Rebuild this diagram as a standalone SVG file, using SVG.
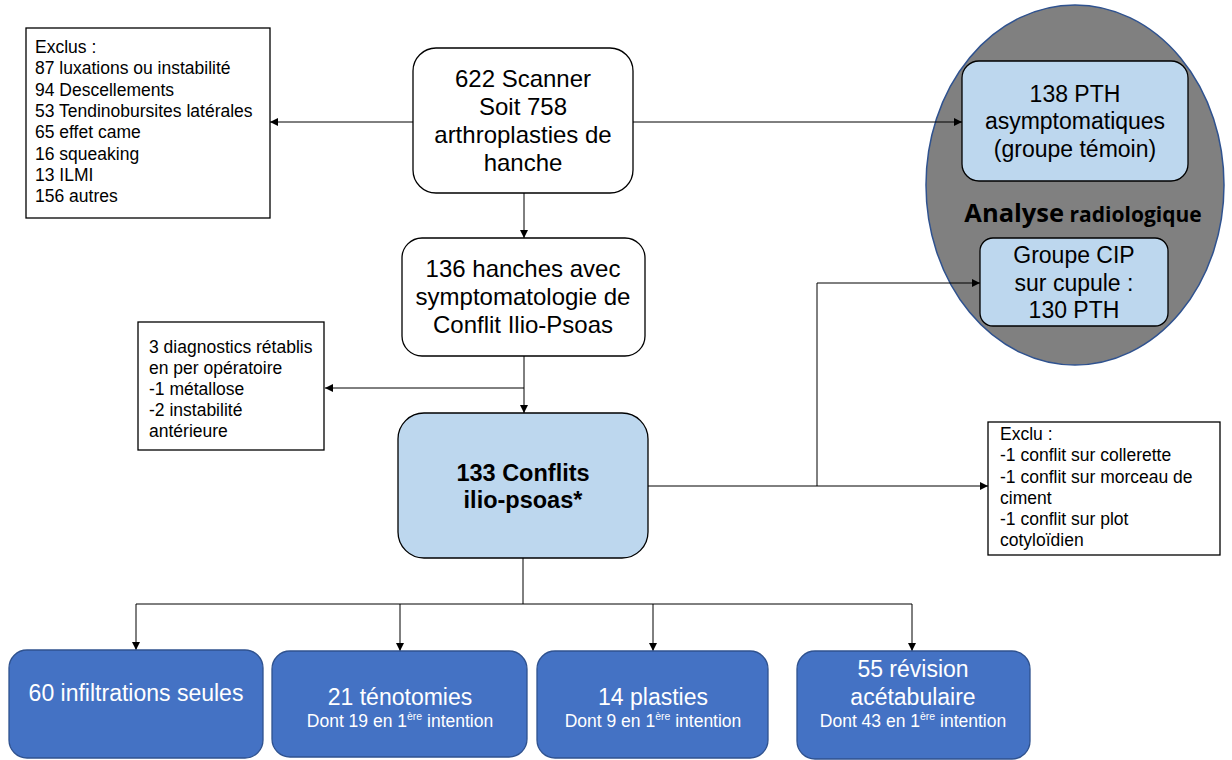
<svg xmlns="http://www.w3.org/2000/svg" width="1232" height="760" viewBox="0 0 1232 760">
<defs>
<marker id="ah" viewBox="0 0 10 10" refX="10" refY="5" markerWidth="8" markerHeight="8" markerUnits="userSpaceOnUse" orient="auto">
<path d="M0,0 L10,5 L0,10 z" fill="#000"/>
</marker>
<style>
.t{font-family:"Liberation Sans",Arial,sans-serif;fill:#000}
.w{font-family:"Liberation Sans",Arial,sans-serif;fill:#fff}
.sq{fill:#fff;stroke:#000;stroke-width:1.3}
.rw{fill:#fff;stroke:#000;stroke-width:1.3}
.lb{fill:#BDD7EE;stroke:#000;stroke-width:1.3}
.db{fill:#4472C4;stroke:#2F528F;stroke-width:1.3}
.c{fill:none;stroke:#000;stroke-width:1}
</style>
</defs>
<rect width="1232" height="760" fill="#fff"/>

<g id="ellipse-analyse">
<ellipse cx="1075" cy="185" rx="149" ry="180" fill="#808080" stroke="#2F528F" stroke-width="1.5"/>
<text x="1083" y="222" text-anchor="middle" style="font-family:'Open Sans',sans-serif;font-weight:bold" fill="#000"><tspan font-size="25.5">Analyse</tspan><tspan font-size="21"> radiologique</tspan></text>
</g>

<g id="connectors">
<line class="c" x1="413" y1="122" x2="270" y2="122" marker-end="url(#ah)"/>
<line class="c" x1="633" y1="122" x2="962" y2="122" marker-end="url(#ah)"/>
<line class="c" x1="524" y1="193" x2="524" y2="238" marker-end="url(#ah)"/>
<line class="c" x1="524" y1="356" x2="524" y2="413" marker-end="url(#ah)"/>
<line class="c" x1="524" y1="388" x2="325" y2="388" marker-end="url(#ah)"/>
<line class="c" x1="648" y1="486" x2="988" y2="486" marker-end="url(#ah)"/>
<polyline class="c" points="817,486 817,283 980,283" marker-end="url(#ah)"/>
<line class="c" x1="523" y1="558" x2="523" y2="604"/>
<line class="c" x1="136" y1="604" x2="912" y2="604"/>
<line class="c" x1="136" y1="604" x2="136" y2="650" marker-end="url(#ah)"/>
<line class="c" x1="400" y1="604" x2="400" y2="651" marker-end="url(#ah)"/>
<line class="c" x1="653" y1="604" x2="653" y2="651" marker-end="url(#ah)"/>
<line class="c" x1="912" y1="604" x2="912" y2="651" marker-end="url(#ah)"/>
</g>

<g id="exclus">
<rect class="sq" x="26" y="28" width="244" height="190"/>
<text class="t" font-size="17.5" x="35" y="53">Exclus :</text>
<text class="t" font-size="17.5" x="35" y="74">87 luxations ou instabilité</text>
<text class="t" font-size="17.5" x="35" y="96">94 Descellements</text>
<text class="t" font-size="17.5" x="35" y="117">53 Tendinobursites latérales</text>
<text class="t" font-size="17.5" x="35" y="138">65 effet came</text>
<text class="t" font-size="17.5" x="35" y="160">16 squeaking</text>
<text class="t" font-size="17.5" x="35" y="181">13 ILMI</text>
<text class="t" font-size="17.5" x="35" y="202">156 autres</text>
</g>

<g id="scanner">
<rect class="rw" x="413" y="48" width="220" height="145" rx="23"/>
<text class="t" font-size="24" text-anchor="middle" x="523" y="87">622 Scanner</text>
<text class="t" font-size="24" text-anchor="middle" x="523" y="115">Soit 758</text>
<text class="t" font-size="24" text-anchor="middle" x="523" y="143">arthroplasties de</text>
<text class="t" font-size="24" text-anchor="middle" x="523" y="171">hanche</text>
</g>

<g id="pth-temoin">
<rect class="lb" x="962" y="61" width="226" height="120" rx="17"/>
<text class="t" font-size="23" text-anchor="middle" x="1075" y="102">138 PTH</text>
<text class="t" font-size="23" text-anchor="middle" x="1075" y="129">asymptomatiques</text>
<text class="t" font-size="23" text-anchor="middle" x="1075" y="157">(groupe témoin)</text>
</g>

<g id="cip">
<rect class="lb" x="980" y="238" width="188" height="88" rx="13"/>
<text class="t" font-size="23" text-anchor="middle" x="1074" y="263">Groupe CIP</text>
<text class="t" font-size="23" text-anchor="middle" x="1074" y="291">sur cupule :</text>
<text class="t" font-size="23" text-anchor="middle" x="1074" y="318">130 PTH</text>
</g>

<g id="hanches">
<rect class="rw" x="402" y="238" width="243" height="118" rx="20"/>
<text class="t" font-size="24" text-anchor="middle" x="523" y="277">136 hanches avec</text>
<text class="t" font-size="24" text-anchor="middle" x="523" y="305">symptomatologie de</text>
<text class="t" font-size="24" text-anchor="middle" x="523" y="333">Conflit Ilio-Psoas</text>
</g>

<g id="diagnostics">
<rect class="sq" x="138" y="322" width="186" height="128"/>
<text class="t" font-size="17.5" x="149" y="353">3 diagnostics rétablis</text>
<text class="t" font-size="17.5" x="149" y="374">en per opératoire</text>
<text class="t" font-size="17.5" x="149" y="395">-1 métallose</text>
<text class="t" font-size="17.5" x="149" y="416">-2 instabilité</text>
<text class="t" font-size="17.5" x="149" y="437">antérieure</text>
</g>

<g id="conflits">
<rect class="lb" x="398" y="413" width="250" height="145" rx="26"/>
<text class="t" font-size="23.5" font-weight="bold" text-anchor="middle" x="523" y="481">133 Conflits</text>
<text class="t" font-size="23.5" font-weight="bold" text-anchor="middle" x="523" y="508">ilio-psoas*</text>
</g>

<g id="exclu">
<rect class="sq" x="988" y="422" width="232" height="133"/>
<text class="t" font-size="17.5" x="1000" y="440">Exclu :</text>
<text class="t" font-size="17.5" x="1000" y="461">-1 conflit sur collerette</text>
<text class="t" font-size="17.5" x="1000" y="483">-1 conflit sur morceau de</text>
<text class="t" font-size="17.5" x="1000" y="504">ciment</text>
<text class="t" font-size="17.5" x="1000" y="525">-1 conflit sur plot</text>
<text class="t" font-size="17.5" x="1000" y="546">cotyloïdien</text>
</g>

<g id="infiltrations">
<rect class="db" x="9" y="650" width="254" height="108" rx="18"/>
<text class="w" font-size="23" text-anchor="middle" x="136" y="701">60 infiltrations seules</text>
</g>

<g id="tenotomies">
<rect class="db" x="272" y="651" width="255" height="106" rx="18"/>
<text class="w" font-size="23" text-anchor="middle" x="400" y="705">21 ténotomies</text>
<text class="w" font-size="17.5" text-anchor="middle" x="400" y="727">Dont 19 en 1<tspan font-size="10.5" dy="-7">ère</tspan><tspan dy="7"> intention</tspan></text>
</g>

<g id="plasties">
<rect class="db" x="537" y="651" width="231" height="107" rx="18"/>
<text class="w" font-size="23" text-anchor="middle" x="653" y="705">14 plasties</text>
<text class="w" font-size="17.5" text-anchor="middle" x="653" y="727">Dont 9 en 1<tspan font-size="10.5" dy="-7">ère</tspan><tspan dy="7"> intention</tspan></text>
</g>

<g id="revision">
<rect class="db" x="797" y="651" width="233" height="108" rx="18"/>
<text class="w" font-size="23" text-anchor="middle" x="913" y="677">55 révision</text>
<text class="w" font-size="23" text-anchor="middle" x="913" y="705">acétabulaire</text>
<text class="w" font-size="17.5" text-anchor="middle" x="913" y="727">Dont 43 en 1<tspan font-size="10.5" dy="-7">ère</tspan><tspan dy="7"> intention</tspan></text>
</g>
</svg>
